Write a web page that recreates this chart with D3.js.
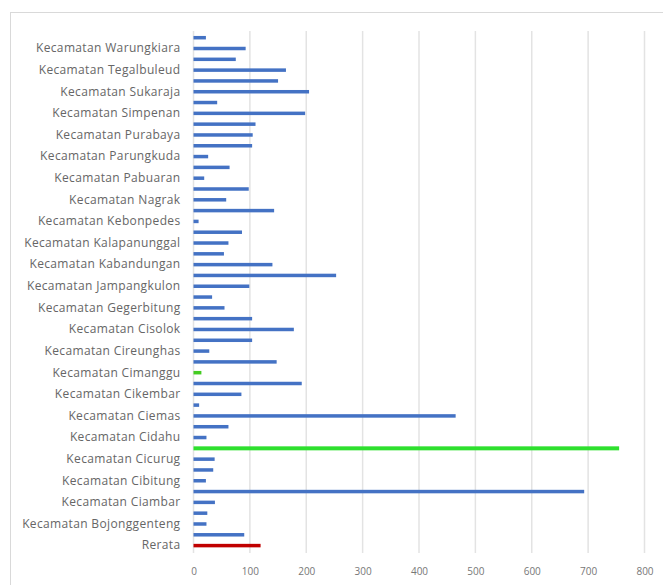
<!DOCTYPE html>
<html><head><meta charset="utf-8">
<script src="https://cdn.jsdelivr.net/npm/d3@7"></script>
<style>
html,body{margin:0;padding:0;background:#fff;}
text{font-family:"Open Sans",sans-serif;}
</style></head>
<body><div id="chart"></div>
<script>
// Categories bottom -> top (Excel order); labels shown on every other category
const categories = [
  "Rerata","Kecamatan Bantargadung","Kecamatan Bojonggenteng","Kecamatan Caringin",
  "Kecamatan Ciambar","Kecamatan Cibadak","Kecamatan Cibitung","Kecamatan Cicantayan",
  "Kecamatan Cicurug","Kecamatan Cidadap","Kecamatan Cidahu","Kecamatan Cidolog",
  "Kecamatan Ciemas","Kecamatan Cikakak","Kecamatan Cikembar","Kecamatan Cikidang",
  "Kecamatan Cimanggu","Kecamatan Ciracap","Kecamatan Cireunghas","Kecamatan Cisaat",
  "Kecamatan Cisolok","Kecamatan Curugkembar","Kecamatan Gegerbitung","Kecamatan Gunungguruh",
  "Kecamatan Jampangkulon","Kecamatan Jampangtengah","Kecamatan Kabandungan","Kecamatan Kadudampit",
  "Kecamatan Kalapanunggal","Kecamatan Kalibunder","Kecamatan Kebonpedes","Kecamatan Lengkong",
  "Kecamatan Nagrak","Kecamatan Nyalindung","Kecamatan Pabuaran","Kecamatan Parakansalak",
  "Kecamatan Parungkuda","Kecamatan Pelabuhanratu","Kecamatan Purabaya","Kecamatan Sagaranten",
  "Kecamatan Simpenan","Kecamatan Sukalarang","Kecamatan Sukaraja","Kecamatan Surade",
  "Kecamatan Tegalbuleud","Kecamatan Waluran","Kecamatan Warungkiara","Kecamatan Sukabumi"
];
const values = [
  119, 90, 23, 24.5, 38, 693, 22, 35,
  37.5, 755, 23, 62, 465, 10, 85, 192,
  14, 147.5, 28, 104, 178, 104, 55, 33,
  99, 253, 140, 54, 62, 86, 9, 143,
  58, 98, 19, 64, 26, 104, 105, 110,
  198, 42, 205, 150, 164, 75, 92.5, 22
];
const highlightMax = "Kecamatan Cidadap";
const highlightMin = "Kecamatan Cimanggu";
const averageLabel = "Rerata";
const xTicks = [0,100,200,300,400,500,600,700,800];

const W = 663, H = 585;
const svg = d3.select("#chart").append("svg").attr("width", W).attr("height", H);

// chart border
svg.append("rect").attr("x",10.5).attr("y",12.5).attr("width",W+10).attr("height",H+10)
  .attr("fill","#fff").attr("stroke","#d9d9d9").attr("stroke-width",1);

const x = d3.scaleLinear().domain([0,800]).range([193.5, 644.5]);
const y = d3.scaleBand().domain(categories.slice().reverse()).range([32.3, 551]).paddingInner(0.66).paddingOuter(0.33);

// gridlines
svg.append("g").selectAll("line").data(xTicks).join("line")
  .attr("x1", d=>x(d)).attr("x2", d=>x(d)).attr("y1", 31).attr("y2", 553)
  .attr("stroke", "#e3e3e3").attr("stroke-width", 1.5);

// bars
const color = c => c===highlightMax ? "#2ee02e" : c===highlightMin ? "#44cc22" : c===averageLabel ? "#c00000" : "#4472c4";
svg.append("g").selectAll("rect").data(categories).join("rect")
  .attr("x", x(0))
  .attr("y", (d)=> y(d) + y.bandwidth()/2 - (d===highlightMax?2:1.75))
  .attr("width", (d,i)=> x(values[i]) - x(0))
  .attr("height", d=> d===highlightMax ? 4 : 3.5)
  .attr("fill", color);

// category axis labels (every other)
const yAxis = d3.axisLeft(y).tickSize(0).tickPadding(13)
  .tickValues(categories.filter((c,i)=> i%2===0));
const gy = svg.append("g").attr("transform", `translate(${x(0)},0)`).call(yAxis);
gy.select(".domain").remove();
gy.selectAll("text").attr("fill","#666666").style("font-size","12px")
  .style("letter-spacing","0.35px")
  .style("font-family","'Open Sans',sans-serif");

// value axis
const xAxis = d3.axisBottom(x).tickValues(xTicks).tickSize(0).tickPadding(0);
const gx = svg.append("g").attr("transform", `translate(0,568)`).call(xAxis);
gx.select(".domain").remove();
gx.selectAll("text").attr("fill","#777777").style("font-size","10px")
  .style("font-family","'Open Sans',sans-serif");
</script></body></html>
